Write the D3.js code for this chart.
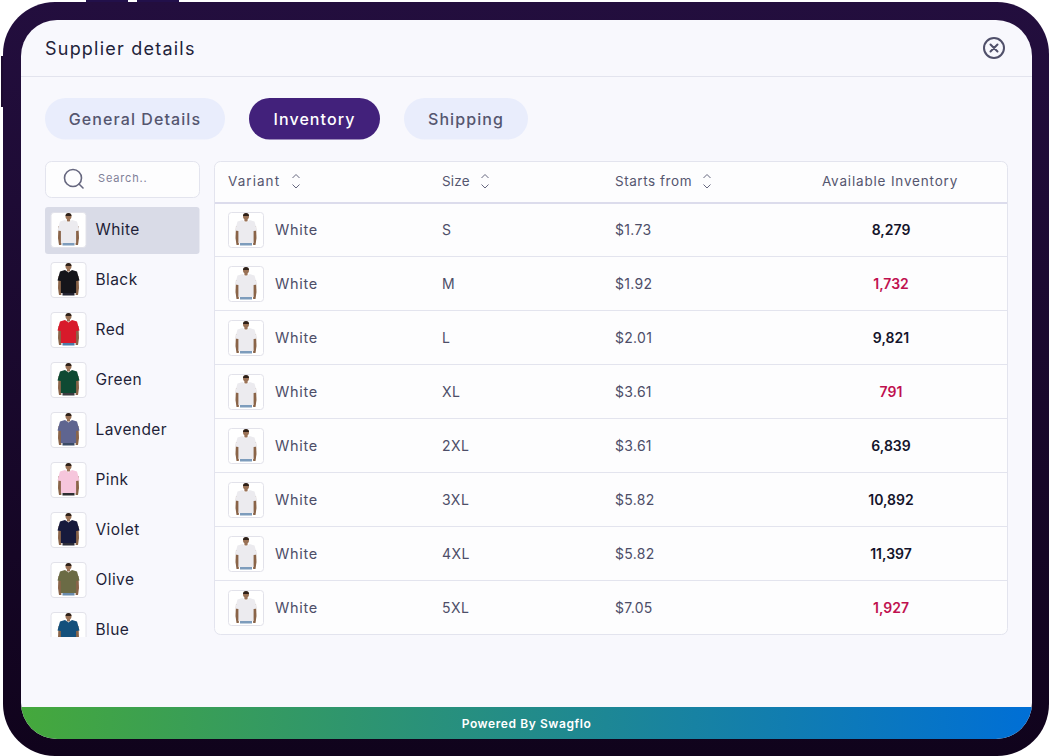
<!DOCTYPE html>
<html>
<head>
<meta charset="utf-8">
<script src="https://cdn.jsdelivr.net/npm/d3@7"></script>
<style>
html, body { margin: 0; padding: 0; background: #fff; overflow: hidden; }
svg { display: block; }
text { font-family: Inter, "Open Sans", sans-serif; }
</style>
</head>
<body>
<svg id="chart" width="1050" height="756"></svg>
<script>
const colorNames = ["White", "Black", "Red", "Green", "Lavender", "Pink", "Violet", "Olive", "Blue"];
const shirtFills = ["#ecebef", "#15151a", "#d81a2b", "#0f4a33", "#5f6590", "#f6c6dc", "#171a3c", "#6b6b45", "#14507c"];
const pantsFills = ["#7d9cbc", "#222230", "#4b7ba8", "#3b3b40", "#3a4a66", "#2c2c30", "#2b2b38", "#6a8cae", "#7a8c9c"];
const sizes = ["S", "M", "L", "XL", "2XL", "3XL", "4XL", "5XL"];
const prices = ["$1.73", "$1.92", "$2.01", "$3.61", "$3.61", "$5.82", "$5.82", "$7.05"];
const inventory = [8279, 1732, 9821, 791, 6839, 10892, 11397, 1927];
const tabNames = ["General Details", "Inventory", "Shipping"];
const tabEdges = [[45, 225], [249, 380], [404, 528]];
const columnNames = ["Variant", "Size", "Starts from", "Available Inventory"];
const columnX = [228, 442, 615, 890];
const columnSpacing = [1.05, 0.2, 0.55, 0.82];
const sortX = [296, 485, 707];

const svg = d3.select("#chart");
const defs = svg.append("defs");

const grad = defs.append("linearGradient").attr("id", "footer");
grad.append("stop").attr("offset", "0%").attr("stop-color", "#45a83c");
grad.append("stop").attr("offset", "100%").attr("stop-color", "#006fd6");

const frameGrad = defs.append("linearGradient").attr("id", "frame").attr("x2", 0).attr("y2", 1);
frameGrad.append("stop").attr("offset", "0%").attr("stop-color", "#230e3e");
frameGrad.append("stop").attr("offset", "100%").attr("stop-color", "#10031c");

defs.append("clipPath").attr("id", "screen").append("rect")
    .attr("x", 21).attr("y", 20).attr("width", 1011).attr("height", 719).attr("rx", 36);
defs.append("clipPath").attr("id", "sideClip").append("rect")
    .attr("x", 40).attr("y", 200).attr("width", 165).attr("height", 437);

const rowY = d3.scaleBand().domain(sizes).range([203, 635]);
const sideY = d3.scaleBand().domain(colorNames).range([205, 655]);
const inkFmt = d3.format(",");

// device frame
svg.append("rect").attr("x", 86).attr("y", 0).attr("width", 42).attr("height", 6).attr("fill", "#22104a");
svg.append("rect").attr("x", 137).attr("y", 0).attr("width", 42).attr("height", 6).attr("fill", "#22104a");
svg.append("rect").attr("x", 1).attr("y", 56).attr("width", 6).attr("height", 51).attr("fill", "#1c0a30");
svg.append("rect").attr("x", 3).attr("y", 2).attr("width", 1046).attr("height", 754).attr("rx", 52).attr("fill", "url(#frame)");

const screen = svg.append("g").attr("clip-path", "url(#screen)");
screen.append("rect").attr("x", 21).attr("y", 20).attr("width", 1011).attr("height", 719).attr("fill", "#f8f8fd");
screen.append("rect").attr("x", 21).attr("y", 707).attr("width", 1011).attr("height", 32).attr("fill", "url(#footer)");
screen.append("line").attr("x1", 21).attr("x2", 1032).attr("y1", 76.5).attr("y2", 76.5).attr("stroke", "#e3e4ee");

function label(g, str, x, y, size, weight, fill, spacing, anchor) {
  return g.append("text").attr("x", x).attr("y", y)
    .attr("font-size", size).attr("font-weight", weight).attr("fill", fill)
    .attr("letter-spacing", spacing || 0).attr("text-anchor", anchor || "start")
    .attr("dominant-baseline", "central").text(str);
}

label(svg, "Supplier details", 45, 48, 18, 400, "#22223a", 1.22);

// close button
svg.append("circle").attr("cx", 994).attr("cy", 48).attr("r", 10).attr("fill", "none").attr("stroke", "#50506a").attr("stroke-width", 2);
svg.append("path").attr("d", "M990.5 44.5L997.5 51.5M997.5 44.5L990.5 51.5").attr("stroke", "#50506a").attr("stroke-width", 2).attr("stroke-linecap", "round");

// tabs
tabNames.forEach((name, i) => {
  const [a, b] = tabEdges[i];
  const on = i === 1;
  svg.append("rect").attr("x", a).attr("y", 98).attr("width", b - a).attr("height", 41.5).attr("rx", 20.7)
    .attr("fill", on ? "#42217b" : "#e9edfc");
  label(svg, name, (a + b) / 2, 119, 16, 450, on ? "#fff" : "#55566f", 1.08, "middle");
});

// search box
svg.append("rect").attr("x", 45.5).attr("y", 161.5).attr("width", 154).attr("height", 36).attr("rx", 6)
  .attr("fill", "#fdfdfe").attr("stroke", "#e3e4ee");
svg.append("circle").attr("cx", 73).attr("cy", 178).attr("r", 8.5).attr("fill", "none").attr("stroke", "#66677f").attr("stroke-width", 1.6);
svg.append("path").attr("d", "M79 184L83 188").attr("stroke", "#66677f").attr("stroke-width", 1.6).attr("stroke-linecap", "round");
label(svg, "Search..", 98, 178, 11, 400, "#7f8098", 0.85);

function tee(g, shirt, pants) {
  // arms, head and trousers behind the shirt
  g.append("path").attr("d", "M8 14L7.5 26L8.5 33L10.8 33L11.5 14Z").attr("fill", "#8a6448");
  g.append("path").attr("d", "M28 14L28.5 26L27.5 33L25.2 33L24.5 14Z").attr("fill", "#8a6448");
  g.append("circle").attr("cx", 18).attr("cy", 4.6).attr("r", 3).attr("fill", "#9a7256");
  g.append("path").attr("d", "M15 4A3 3 0 0 1 21 4Z").attr("fill", "#2e2018");
  g.append("rect").attr("x", 16.4).attr("y", 6.5).attr("width", 3.2).attr("height", 3).attr("fill", "#9a7256");
  g.append("rect").attr("x", 12).attr("y", 30).attr("width", 12).attr("height", 3.5).attr("fill", pants);
  g.append("path").attr("d", "M14.5 8L18 10.5L21.5 8L26.5 9.5L29 18.5L25.6 19L25.6 31L10.4 31L10.4 19L7 18.5L9.5 9.5Z").attr("fill", shirt);
}

function iconBox(g, x, y, shirt, pants) {
  const box = g.append("g").attr("transform", `translate(${x},${y})`);
  box.append("rect").attr("x", 0.5).attr("y", 0.5).attr("width", 35).attr("height", 35).attr("rx", 3)
    .attr("fill", "#fff").attr("stroke", "#e2e2ea");
  tee(box, shirt, pants);
}

// colour list
const side = svg.append("g").attr("clip-path", "url(#sideClip)");
side.append("rect").attr("x", 45).attr("y", 207).attr("width", 154.5).attr("height", 47).attr("rx", 3).attr("fill", "#d9dbe7");
colorNames.forEach((name, i) => {
  const cy = sideY(name) + sideY.bandwidth() / 2;
  iconBox(side, 50.5, cy - 18, shirtFills[i], pantsFills[i]);
  label(side, name, 95.5, cy - 0.5, 15.5, 420, "#1f1f38", 0.42);
});

// table
svg.append("rect").attr("x", 214.5).attr("y", 161.5).attr("width", 793).attr("height", 473).attr("rx", 6)
  .attr("fill", "#fdfdfe").attr("stroke", "#e3e4ee");
svg.append("line").attr("x1", 215).attr("x2", 1007).attr("y1", 203).attr("y2", 203).attr("stroke", "#dcdcec").attr("stroke-width", 2);

columnNames.forEach((name, i) => {
  label(svg, name, columnX[i], 181, 13.5, 400, "#55566f", columnSpacing[i], i === 3 ? "middle" : "start");
});
sortX.forEach(x => {
  svg.append("path").attr("d", `M${x - 3.5} 178L${x} 174.5L${x + 3.5} 178M${x - 3.5} 184.5L${x} 188L${x + 3.5} 184.5`)
    .attr("fill", "none").attr("stroke", "#66677f").attr("stroke-width", 1);
});

const rows = svg.selectAll("g.row").data(sizes).enter().append("g").attr("class", "row");
rows.each(function (size, i) {
  const g = d3.select(this);
  const top = rowY(size);
  const cy = top + rowY.bandwidth() / 2;
  if (i > 0) {
    g.append("line").attr("x1", 215).attr("x2", 1007).attr("y1", top - 0.5).attr("y2", top - 0.5).attr("stroke", "#e3e4ee");
  }
  iconBox(g, 228, cy - 18, shirtFills[0], pantsFills[0]);
  label(g, "White", 275, cy - 0.5, 14.5, 400, "#4d4e68", 0.7);
  label(g, size, columnX[1], cy - 0.5, 14, 400, "#4d4e68", 0.5);
  label(g, prices[i], columnX[2], cy - 0.5, 14, 400, "#4d4e68", 0.3);
  label(g, inkFmt(inventory[i]), columnX[3] + 1, cy - 0.5, 14, 600, inventory[i] < 2000 ? "#c0104f" : "#14142b", 0, "middle");
});

label(svg, "Powered By Swagflo", 526.5, 723.5, 12, 600, "#fff", 0.58, "middle");
</script>
</body>
</html>
